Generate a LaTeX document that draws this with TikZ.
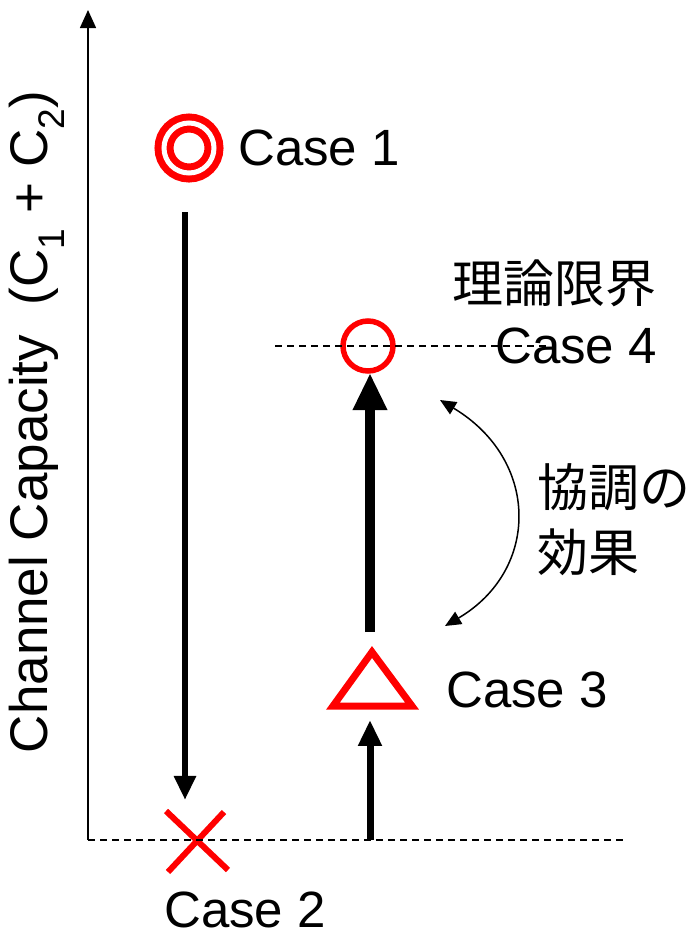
\documentclass[tikz,border=0pt]{standalone}
\usepackage{fontspec}
\setmainfont{Liberation Sans}
\newfontfamily\jpfont{Noto Sans CJK JP}
\usetikzlibrary{arrows.meta}

\begin{document}
\begin{tikzpicture}[x=1pt,y=-1pt]
	\tikzset{lbl/.style={font=\fontsize{51}{65}\selectfont, inner sep=0pt}}
	\tikzset{redmark/.style={draw=red, line width=7pt}}
	\tikzset{guide/.style={line width=1.2pt, dash pattern=on 7pt off 5pt}}
	\tikzset{movearrow/.style={line width=#1, -{Triangle[width=3.2*#1,length=3.7*#1]}}}
	\useasboundingbox (0,0) rectangle (696,932);
	% axis and base level
	\coordinate (origin) at (88,840);
	\coordinate (top) at (88,10);
	\coordinate (baseend) at (624,840);
	\draw[line width=1.5pt, -{Triangle[width=16pt,length=18pt]}] (origin) -- (top);
	\node[lbl, font=\fontsize{53}{65}\selectfont, rotate=90] (ylabel) at (37,422) {Channel Capacity\ \ (C\textsubscript{1} + C\textsubscript{2})};
	% cases
	\node[redmark, circle, double=white, double distance=5pt, minimum size=50pt, inner sep=0pt] (c1) at (189,148) {};
	\node[lbl, anchor=west] (c1lbl) at (238,148) {Case 1};
	\coordinate (c2) at (196,840);
	\draw[redmark, line width=6pt] (166,811) -- (228,870) (224,812) -- (168,872);
	\node[lbl] (c2lbl) at (245,910) {Case 2};
	\coordinate (c3) at (372,686);
	\draw[redmark, line join=miter] (372,652) -- (412,706) -- (333,706) -- cycle;
	\node[lbl, anchor=west] (c3lbl) at (446,690) {Case 3};
	\node[draw=red, line width=5.5pt, circle, minimum size=50pt, inner sep=0pt] (c4) at (368,346) {};
	\node[lbl, anchor=east] (c4lbl) at (657,346) {Case 4};
	\node[lbl, anchor=east] (limit) at (657,283) {\jpfont 理論限界};
	\coordinate (limitl) at (275,346);
	\coordinate (limitr) at (548,346);
	\draw[guide] (origin) -- (baseend);
	\draw[guide] (limitl) -- (limitr);
	% moves between cases
	\coordinate (a1) at (185,212);
	\coordinate (a2) at (185,800);
	\draw[movearrow=6.5pt] (a1) -- (a2);
	\coordinate (b1) at (370,840);
	\coordinate (b2) at (370,720);
	\draw[movearrow=7pt] (b1) -- (b2);
	\coordinate (d1) at (370,632);
	\coordinate (d2) at (370,373);
	\draw[movearrow=10pt] (d1) -- (d2);
	\coordinate (e1) at (440,400);
	\coordinate (e2) at (445,626);
	\draw[line width=1.5pt, {Triangle[width=14pt,length=16pt]}-{Triangle[width=14pt,length=16pt]}] (e1) .. controls (540,460) and (540,570) .. (e2);
	\node[lbl, anchor=west, align=left] (gain) at (537,520) {\jpfont 協調の\\\jpfont 効果};
\end{tikzpicture}
\end{document}
